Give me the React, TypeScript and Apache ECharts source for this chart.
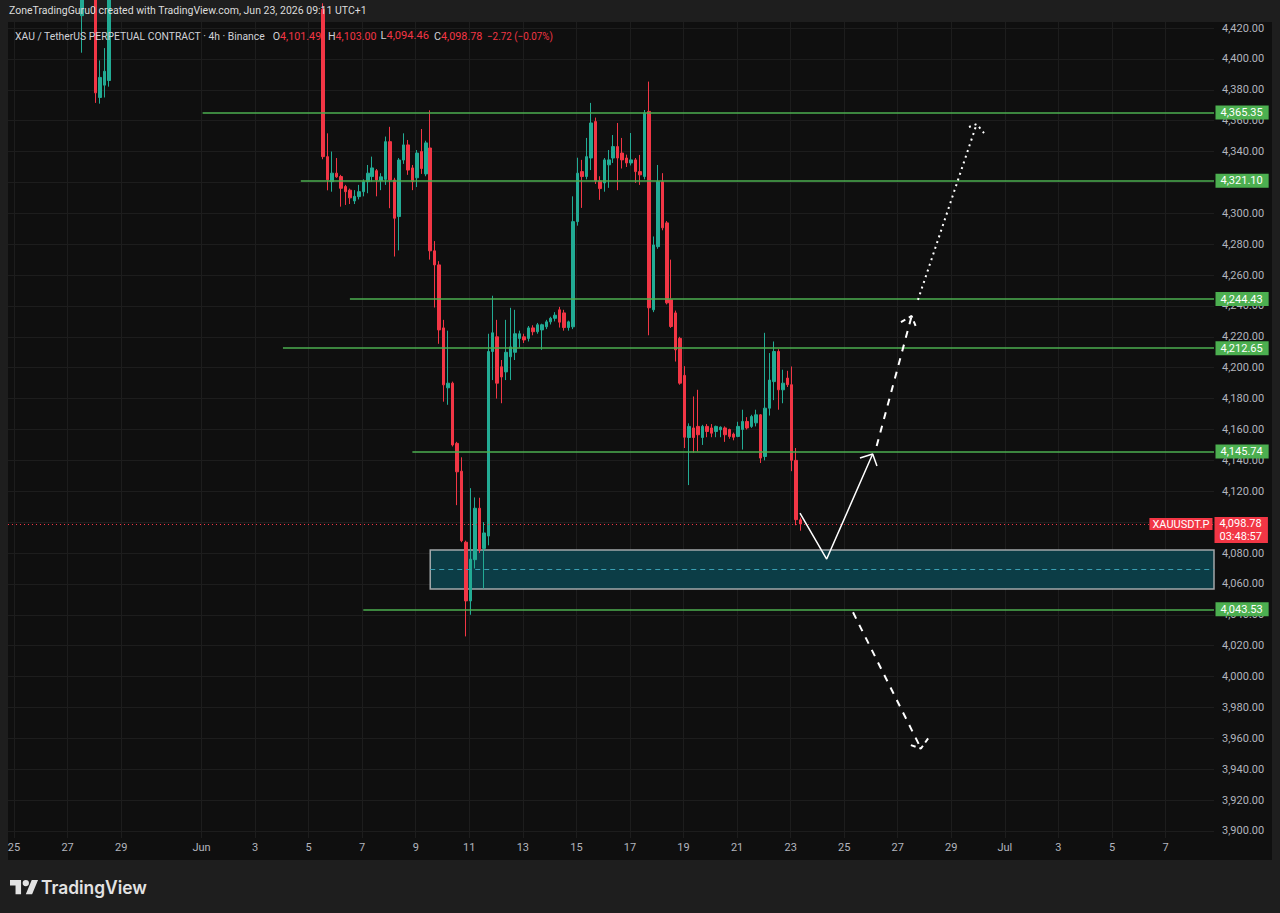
import React, { useEffect, useRef } from "react";
import * as echarts from "echarts";

// ---------------- DATA ----------------
// 4h candles (chart time UTC+1): time "MM-DD HH", open, high, low, close
const candles: [string, number, number, number, number][] = [
  ["05-27 13", 4428, 4450, 4404, 4445],
  ["05-28 01", 4440, 4446, 4371.5, 4378],
  ["05-28 05", 4375, 4399, 4371, 4388],
  ["05-28 09", 4383, 4407, 4375, 4392],
  ["05-28 13", 4386, 4446, 4382, 4440],
  ["06-05 13", 4432, 4436, 4335, 4336.7],
  ["06-05 17", 4336.7, 4351.8, 4314.9, 4321.7],
  ["06-05 21", 4320.5, 4340, 4314, 4326],
  ["06-06 01", 4326, 4335.8, 4323, 4323.6],
  ["06-06 05", 4323.8, 4324.9, 4304.3, 4316.2],
  ["06-06 09", 4317.3, 4318.4, 4305.4, 4314],
  ["06-06 13", 4315, 4316, 4306, 4310],
  ["06-06 17", 4308, 4315, 4306, 4311],
  ["06-06 21", 4310.8, 4318.4, 4309, 4314],
  ["06-07 01", 4314, 4322, 4311, 4320.5],
  ["06-07 05", 4320.5, 4331.3, 4313, 4326],
  ["06-07 09", 4323.8, 4336.7, 4320.5, 4329.4],
  ["06-07 13", 4327.6, 4328.7, 4311, 4321.6],
  ["06-07 17", 4321.2, 4326, 4315, 4323.6],
  ["06-07 21", 4322, 4349.7, 4318.4, 4346.4],
  ["06-08 01", 4346.4, 4356, 4303.3, 4321.6],
  ["06-08 05", 4321.6, 4323, 4272, 4296.8],
  ["06-08 09", 4297.9, 4335.8, 4276, 4334.5],
  ["06-08 13", 4334.5, 4351.8, 4332, 4344.3],
  ["06-08 17", 4344.3, 4347.5, 4324.9, 4328],
  ["06-08 21", 4329.4, 4331.3, 4315, 4320.5],
  ["06-09 01", 4323, 4341, 4317, 4339],
  ["06-09 05", 4340, 4354.6, 4325.5, 4329],
  ["06-09 09", 4325.5, 4347, 4324, 4345.6],
  ["06-09 13", 4342.3, 4366.7, 4270, 4275.7],
  ["06-09 17", 4275.7, 4282, 4239, 4266.6],
  ["06-09 21", 4266.6, 4269, 4215.5, 4224.5],
  ["06-10 01", 4225.8, 4231, 4178, 4188.9],
  ["06-10 05", 4187, 4224, 4176, 4190],
  ["06-10 09", 4190, 4191, 4149, 4150],
  ["06-10 13", 4151, 4152, 4111, 4132.6],
  ["06-10 17", 4133, 4142, 4087, 4088],
  ["06-10 21", 4087, 4088, 4026, 4049],
  ["06-11 01", 4049, 4122, 4040, 4076],
  ["06-11 05", 4075.7, 4116, 4070, 4109],
  ["06-11 09", 4109, 4115.8, 4080, 4082],
  ["06-11 13", 4083, 4100, 4057, 4093],
  ["06-11 17", 4091, 4222, 4085, 4210.5],
  ["06-11 21", 4210.5, 4246.6, 4192, 4222.6],
  ["06-12 01", 4220, 4231, 4180, 4190],
  ["06-12 05", 4200.6, 4205, 4177, 4194],
  ["06-12 09", 4197.3, 4231, 4192, 4210],
  ["06-12 13", 4207.1, 4238.8, 4192, 4213.5],
  ["06-12 17", 4210, 4237.5, 4205, 4222],
  ["06-12 21", 4219, 4224, 4213, 4222],
  ["06-13 01", 4220, 4222, 4216, 4218],
  ["06-13 05", 4219, 4227, 4217, 4225.8],
  ["06-13 09", 4225.8, 4227.5, 4221, 4223.3],
  ["06-13 13", 4223.3, 4229, 4222, 4227.8],
  ["06-13 17", 4224.5, 4228.5, 4211.6, 4227.8],
  ["06-13 21", 4226.5, 4231, 4225, 4229.7],
  ["06-14 01", 4229.7, 4233, 4228, 4232],
  ["06-14 05", 4232, 4236, 4230, 4234],
  ["06-14 09", 4237.5, 4239.4, 4226, 4229.5],
  ["06-14 13", 4235.5, 4237.5, 4224, 4226],
  ["06-14 17", 4226, 4230.5, 4224, 4229.7],
  ["06-14 21", 4226.5, 4311, 4225, 4294.6],
  ["06-15 01", 4294.6, 4336, 4292, 4326],
  ["06-15 05", 4327, 4334.6, 4303.5, 4323.8],
  ["06-15 09", 4323.8, 4348.8, 4322, 4336.7],
  ["06-15 13", 4335.8, 4371.5, 4328, 4358.5],
  ["06-15 17", 4359.4, 4362, 4319, 4321],
  ["06-15 21", 4321, 4324, 4308.7, 4316],
  ["06-16 01", 4319.7, 4335.8, 4314, 4334.6],
  ["06-16 05", 4331.4, 4341, 4316.5, 4334.6],
  ["06-16 09", 4335.8, 4350.7, 4332.6, 4343.2],
  ["06-16 13", 4343.2, 4358.5, 4315, 4335.8],
  ["06-16 17", 4339, 4348.8, 4329, 4334.6],
  ["06-16 21", 4335.8, 4338, 4330, 4332.6],
  ["06-17 01", 4332.6, 4352, 4331, 4334.6],
  ["06-17 05", 4334.6, 4335.8, 4319.7, 4327],
  ["06-17 09", 4327, 4337.8, 4318.4, 4324.9],
  ["06-17 13", 4323.8, 4366.9, 4322, 4365],
  ["06-17 17", 4366, 4385.3, 4221, 4238.8],
  ["06-17 21", 4237.5, 4285, 4236, 4279.5],
  ["06-18 01", 4278.4, 4331.3, 4277, 4320.5],
  ["06-18 05", 4320.5, 4326, 4289, 4290.6],
  ["06-18 09", 4293.8, 4295, 4241, 4242],
  ["06-18 13", 4244, 4270, 4225.8, 4226.7],
  ["06-18 17", 4235.5, 4237, 4204, 4211.6],
  ["06-18 21", 4219, 4220, 4189, 4190],
  ["06-19 01", 4195, 4201, 4148, 4155],
  ["06-19 05", 4154.8, 4164, 4124, 4162],
  ["06-19 09", 4161, 4181.4, 4145, 4154.8],
  ["06-19 13", 4162, 4185.7, 4145.8, 4156.6],
  ["06-19 17", 4154.8, 4163, 4150, 4162],
  ["06-19 21", 4162, 4163.5, 4155, 4158.7],
  ["06-20 01", 4161, 4163.5, 4155, 4157.6],
  ["06-20 05", 4158.7, 4162.5, 4155, 4162],
  ["06-20 09", 4159.8, 4162, 4155, 4161.5],
  ["06-20 13", 4161, 4162, 4152, 4156.6],
  ["06-20 17", 4160, 4160.5, 4154, 4155.5],
  ["06-20 21", 4157, 4158, 4153, 4155],
  ["06-21 01", 4155.5, 4165, 4155, 4162],
  ["06-21 05", 4160, 4172.8, 4147, 4165.2],
  ["06-21 09", 4165.2, 4168, 4160, 4161],
  ["06-21 13", 4162, 4169.5, 4161, 4168.4],
  ["06-21 17", 4164.3, 4172.8, 4162, 4169.5],
  ["06-21 21", 4169.5, 4170, 4138.3, 4141.5],
  ["06-22 01", 4142.5, 4222.6, 4140, 4173.8],
  ["06-22 05", 4173.8, 4209.5, 4169, 4192],
  ["06-22 09", 4191, 4217, 4179, 4210.5],
  ["06-22 13", 4210.5, 4212, 4172.8, 4185.7],
  ["06-22 17", 4185.7, 4198.7, 4177, 4190],
  ["06-22 21", 4193.3, 4198, 4187.5, 4189],
  ["06-23 01", 4189, 4200.8, 4133, 4140],
  ["06-23 05", 4140, 4148, 4098, 4101.6],
  ["06-23 09", 4101.49, 4103, 4094.46, 4098.78],
];

// horizontal levels and the time each drawing starts
const levelPrices = [4365.35, 4321.1, 4244.43, 4212.65, 4145.74, 4043.53];
const levelStarts = ["06-01 01", "06-04 17", "06-06 13", "06-04 01", "06-08 21", "06-07 01"];

// last price
const lastPrice = 4098.78;
const countdown = "03:48:57";
const tickerName = "XAUUSDT.P";

// demand zone
const zoneStart = "06-09 13";
const zoneTop = 4082.0;
const zoneBottom = 4056.7;
const zoneMid = 4069.6;

// axis ticks
const priceTicks = [3900, 3920, 3940, 3960, 3980, 4000, 4020, 4040, 4060, 4080, 4100, 4120, 4140, 4160, 4180, 4200, 4220, 4240, 4260, 4280, 4300, 4320, 4340, 4360, 4380, 4400, 4420];
const dateTicks = ["05-25 00", "05-27 00", "05-29 00", "06-01 00", "06-03 00", "06-05 00", "06-07 00", "06-09 00", "06-11 00", "06-13 00", "06-15 00", "06-17 00", "06-19 00", "06-21 00", "06-23 00", "06-25 00", "06-27 00", "06-29 00", "07-01 00", "07-03 00", "07-05 00", "07-07 00"];
const dateTickLabels = ["25", "27", "29", "Jun", "3", "5", "7", "9", "11", "13", "15", "17", "19", "21", "23", "25", "27", "29", "Jul", "3", "5", "7"];

// projected path drawings: [days since Jun 1, price]
const pathSolid = [[22.349, 4105.9], [23.346, 4076.1], [25.063, 4144.1]];
const pathSolidHead = [[24.589, 4141.5], [25.063, 4144.1], [25.224, 4136.3]];
const pathDashedUp = [[25.213, 4149.3], [26.52, 4233.5]];
const pathDashedUpHead = [[26.12, 4229.6], [26.52, 4233.5], [26.68, 4226.4]];
const pathDotted = [[26.755, 4243.9], [28.947, 4357.8]];
const pathDottedHead = [[28.66, 4355.9], [28.947, 4357.8], [29.22, 4352.0]];
const pathDashedDown = [[24.33, 4041.6], [26.867, 3953.4]];
const pathDashedDownHead = [[26.49, 3955.6], [26.867, 3953.4], [27.17, 3960.8]];

// texts
const headerText = "ZoneTradingGuru0 created with TradingView.com, Jun 23, 2026 09:11 UTC+1";
const legendTitle = "XAU / TetherUS PERPETUAL CONTRACT · 4h · Binance";
const ohlc: [string, string][] = [["O", "4,101.49"], ["H", "4,103.00"], ["L", "4,094.46"], ["C", "4,098.78"]];
const changeText = "−2.72 (−0.07%)";

// ---------------- STYLE / LAYOUT ----------------
const UP = "#22ab94";
const DOWN = "#f23645";
const GREEN = "#4caf50";
const AXIS_TEXT = "#b2b5be";
const GRID_LINE = "#1d1d1d";
const FONT = "Roboto";

const X_MIN = -7.226;
const X_MAX = 37.81;
const Y_MIN = 3895.45;
const Y_MAX = 4423.89;

const OHLC_X = [272.7, 328, 380.5, 434];
const OHLC_W = 48.5;
const CHANGE_X = 487;
const CHANGE_W = 66;

const toDay = (s: string) => {
  const [md, hm] = s.split(" ");
  const [m, d] = md.split("-").map(Number);
  const [h, mi = 0] = hm.split(":").map(Number);
  return (Date.UTC(2026, m - 1, d, h, mi) - Date.UTC(2026, 5, 1)) / 864e5;
};
const fmt = (v: number) =>
  v.toLocaleString("en-US", { minimumFractionDigits: 2, maximumFractionDigits: 2 });

const TV_LOGO =
  "M14 22H7V11H0V4h14v18z M28 22h-8l7.5-18h8L28 22z M24 8a4 4 0 1 1-8 0a4 4 0 1 1 8 0z";
let logoRegistered = false;

function measure(text: string, font: string) {
  const c = document.createElement("canvas").getContext("2d")!;
  c.font = font;
  return c.measureText(text).width || 1;
}

export default function App() {
  const ref = useRef<HTMLDivElement>(null);
  useEffect(() => {
    if (!ref.current) return;
    if (!logoRegistered) {
      echarts.graphic.registerShape("tvlogo", echarts.graphic.extendPath(TV_LOGO, {}) as any);
      logoRegistered = true;
    }
    const chart = echarts.init(ref.current, undefined, { renderer: "svg" });

    const tickDays = dateTicks.map(toDay);
    const candleData = candles.map((c) => [toDay(c[0]), c[1], c[4], c[3], c[2]]);

    const f11 = `11px ${FONT}`;
    const headerScale = 358 / measure(headerText, f11);
    const titleScale = 250.5 / measure(legendTitle, f11);
    const changeScale = CHANGE_W / measure(changeText, f11);
    const logoFont = `600 18px Inter`;
    const logoScale = 106 / measure("TradingView", logoFont);

    const arrowSeries = (data: number[][], type: any, width: number) => ({
      type: "line",
      data,
      symbol: "none",
      showSymbol: false,
      silent: true,
      clip: false,
      z: 6,
      lineStyle: { color: "#ffffff", width, type, cap: "butt" },
    });

    const option: any = {
      animation: false,
      backgroundColor: "#1e1e1e",
      grid: { left: 8, right: 66, top: 22, bottom: 75 },
      xAxis: {
        type: "value",
        min: X_MIN,
        max: X_MAX,
        axisLine: { show: false },
        axisTick: { show: false, customValues: tickDays },
        axisLabel: {
          customValues: tickDays,
          color: AXIS_TEXT,
          fontSize: 11,
          fontFamily: FONT,
          margin: 4,
          formatter: (v: number) => {
            const i = tickDays.findIndex((t) => Math.abs(t - v) < 1e-6);
            return i >= 0 ? dateTickLabels[i] : "";
          },
        },
        splitLine: { show: true, lineStyle: { color: GRID_LINE, width: 1 } },
      },
      yAxis: {
        type: "value",
        position: "right",
        min: Y_MIN,
        max: Y_MAX,
        axisLine: { show: false },
        axisTick: { show: false, customValues: priceTicks },
        axisLabel: {
          customValues: priceTicks,
          color: AXIS_TEXT,
          fontSize: 11,
          fontFamily: FONT,
          margin: 8,
          align: "left",
          formatter: (v: number) => fmt(v),
        },
        splitLine: { show: true, lineStyle: { color: GRID_LINE, width: 1 } },
      },
      series: [
        {
          type: "line",
          name: "zone",
          data: [],
          clip: false,
          z: 1,
          markArea: {
            silent: true,
            data: [
              [
                {
                  coord: [toDay(zoneStart), zoneTop],
                  itemStyle: { color: "#0c3d46", borderColor: "#a3a8aa", borderWidth: 1.5 },
                },
                { coord: [X_MAX, zoneBottom] },
              ],
            ],
          },
        },
        {
          type: "candlestick",
          data: candleData,
          encode: { x: 0, y: [1, 2, 3, 4] },
          barWidth: 3,
          clip: true,
          z: 2,
          itemStyle: {
            color: UP,
            color0: DOWN,
            borderColor: UP,
            borderColor0: DOWN,
            borderWidth: 1,
          },
        },
        {
          type: "line",
          name: "levels",
          data: [],
          clip: false,
          z: 4,
          markLine: {
            silent: true,
            symbol: ["none", "none"],
            label: { show: false },
            data: [
              ...levelPrices.map((p, i) => [
                { coord: [toDay(levelStarts[i]), p], lineStyle: { color: GREEN, width: 1.5, type: "solid" } },
                { coord: [X_MAX, p] },
              ]),
              [
                { coord: [X_MIN, lastPrice], lineStyle: { color: DOWN, width: 1, type: [1, 3] } },
                { coord: [X_MAX, lastPrice] },
              ],
              [
                { coord: [toDay(zoneStart), zoneMid], lineStyle: { color: "#3a9fb3", width: 1, type: [5, 4] } },
                { coord: [X_MAX, zoneMid] },
              ],
            ],
          },
          markPoint: {
            silent: true,
            symbol: "circle",
            symbolSize: 1,
            itemStyle: { color: "rgba(0,0,0,0)" },
            data: [
              ...levelPrices.map((p) => ({
                coord: [X_MAX, p],
                label: {
                  show: true,
                  position: "right",
                  distance: 1,
                  formatter: fmt(p),
                  backgroundColor: GREEN,
                  color: "#ffffff",
                  fontSize: 11,
                  fontFamily: FONT,
                  padding: [2, 6, 1, 5],
                },
              })),
              {
                coord: [X_MAX, lastPrice],
                label: {
                  show: true,
                  position: [1, -6.5],
                  formatter: `${fmt(lastPrice)}\n${countdown}`,
                  backgroundColor: DOWN,
                  color: "#ffffff",
                  fontSize: 11,
                  fontFamily: FONT,
                  lineHeight: 13,
                  padding: [0, 6, 0, 5],
                },
              },
              {
                coord: [X_MAX, lastPrice],
                label: {
                  show: true,
                  position: "left",
                  distance: 1,
                  formatter: tickerName,
                  backgroundColor: DOWN,
                  color: "#ffffff",
                  fontSize: 11,
                  fontFamily: FONT,
                  padding: [1, 3, 0, 3],
                },
              },
            ],
          },
        },
        arrowSeries(pathSolid, "solid", 1.5),
        arrowSeries(pathSolidHead, "solid", 1.5),
        arrowSeries(pathDashedUp, [7, 7], 2),
        arrowSeries(pathDashedUpHead, [5, 4], 2),
        arrowSeries(pathDotted, [2, 4], 2),
        arrowSeries(pathDottedHead, [2, 4], 2),
        arrowSeries(pathDashedDown, [7, 7], 2),
        arrowSeries(pathDashedDownHead, [5, 4], 2),
      ],
      graphic: [
        {
          type: "rect",
          silent: true,
          z: -10,
          shape: { x: 8, y: 22, width: 1264, height: 838 },
          style: { fill: "#0f0f0f" },
        },
        {
          type: "text",
          x: 9,
          y: 10,
          z: 50,
          scaleX: headerScale,
          style: { text: headerText, fill: "#dcdcdc", font: f11, verticalAlign: "middle" },
        },
        {
          type: "text",
          x: 15,
          y: 36,
          z: 50,
          scaleX: titleScale,
          style: { text: legendTitle, fill: "#cfd1d6", font: f11, verticalAlign: "middle" },
        },
        ...ohlc.map((o, i) => ({
          type: "text",
          x: OHLC_X[i],
          y: 36,
          z: 50,
          scaleX: OHLC_W / measure(o[0] + o[1], f11),
          style: {
            text: `{g|${o[0]}}{r|${o[1]}}`,
            verticalAlign: "middle",
            rich: {
              g: { fill: "#cfd1d6", font: f11 },
              r: { fill: DOWN, font: f11 },
            },
          },
        })),
        {
          type: "text",
          x: CHANGE_X,
          y: 36,
          z: 50,
          scaleX: changeScale,
          style: { text: changeText, fill: DOWN, font: f11, verticalAlign: "middle" },
        },
        {
          type: "tvlogo",
          x: 10,
          y: 876.8,
          scaleX: 0.79,
          scaleY: 0.79,
          z: 50,
          style: { fill: "#e3e3e3" },
        },
        {
          type: "text",
          x: 41,
          y: 887,
          z: 50,
          scaleX: logoScale,
          style: { text: "TradingView", fill: "#e3e3e3", font: logoFont, verticalAlign: "middle" },
        },
      ],
    };
    chart.setOption(option);
    return () => chart.dispose();
  }, []);
  return (
    <div
      ref={ref}
      style={{ position: "absolute", left: 0, top: 0, width: 1280, height: 913 }}
    />
  );
}
